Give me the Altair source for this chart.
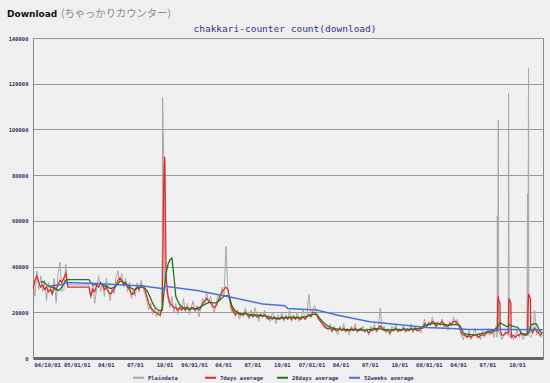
import altair as alt
import pandas as pd

# ---------------- data (values in thousands of downloads) ----------------
START = "2004-08-18"
STEP_DAYS = 6
X_DOMAIN = ["2004-08-18", "2008-12-21"]

N = None
gray_k = [33, 27, 38, 30, 36, 29, 34, 25, 33, 31, 28, 35, 24, 37, 42, 29, 30, 41, 32,
          N, N, N, N, N, N, N, N, N, N,
          32,
          26, 33, 24, 30, 36, 29, 33, 27, 35, 30, 25, 31, 28, 35, 38, 33, 37, 31, 35, 29,
          33, 26, 30, 27, 33, 29, 34, 31, 28,
          25, 21, 24, 19, 22, 18, 21, 18,
          N, N,
          30, 26, 22, 27, 20, 24, 19, 23, 21, 26, 20, 24, 19, 22, 25, 20, 23, 18, 22, 26,
          23, 29, 24, 27, 22, 20, 24, 28, 25, 31, 27,
          49,
          30, 24, 20, 22, 18, 21, 17, 20, 18, 22, 19, 17, 21, 18, 22, 19, 16, 20, 18, 21,
          17, 19, 16, 20, 18, 15, 19, 17, 20, 16, 19, 17, 21, 16, 19, 17, 20, 16, 18, 21,
          17, 19,
          28,
          19, 21, 23, 20, 18, 16, 15, 13, 14, 12, 15, 11, 14, 12, 10, 14, 12, 15, 11, 13,
          10, 14, 12, 15, 11, 13, 12, 14, 11, 13, 10, 14, 12, 15, 11, 13,
          22,
          12, 14, 11, 13, 10, 14, 12, 15, 11, 13, 12, 14, 11, 13, 12, 15, 11, 14, 12, 13,
          11, 14,
          17, 13, 16, 14, 18, 15, 13, 16, 14, 17, 13, 15, 12, 16, 14, 18, 15, 17, 13,
          10, 8, 11, 9, 12, 8, 10, 13, 9, 11, 8, 12, 9, 11, 13, 10, 12, 9, 14,
          N,
          11, 8, 10, 12,
          10,
          9, 11, 8, 10, 12, 9, 11, 8, 10, 12,
          N,
          9, 11, 21, 10, 12, 9, 10]

gray_spike_dates = ["2005-09-22", "2005-09-24", "2005-09-25", "2005-09-26", "2005-09-27",
                    "2005-09-28", "2005-09-29", "2005-09-30", "2005-10-01", "2005-10-02",
                    "2008-07-31", "2008-08-01", "2008-08-02", "2008-08-04", "2008-08-05",
                    "2008-09-04", "2008-09-05", "2008-09-06", "2008-09-07",
                    "2008-11-03", "2008-11-04", "2008-11-06", "2008-11-07"]
gray_spike_k = [21, 48, 114, 108, 99, 92, 86, 70, 45, 30,
                9, 62, 12, 104, 11,
                10, 116, 63, 10,
                72, 11, 127, 10]

red_k = [30, 34, 36, 33, 31, 32, 30, 31, 29, 30, 28, 31, 30, 32, 34, 33, 35, 37, 31,
         N, N, N, N, N, N, N, N, N, N,
         31,
         27, 30, 29, 32, 31, 33, 32, 30, 31, 29, 28, 29, 30, 32, 34, 35, 34, 32, 33, 31,
         30, 28, 28, 30, 31, 30, 32, 31, 30, 27, 24, 22, 21, 20, 20, 19, 19,
         N, N, N,
         27, 24, 23, 22, 22, 21, 22, 21, 22, 21, 22, 21, 22, 22, 21, 22, 21, 22, 24, 25,
         26, 25, 24, 23, 22, 23, 25, 27, 29, 30, 31, 30, 26,
         22, 20, 19, 20, 19, 19, 19, 20, 19, 18, 19, 18, 19, 18, 18, 19, 18, 19, 18, 17,
         18, 17, 18, 17, 17, 17, 18, 17, 18, 17, 18, 17, 18, 17, 18, 17, 17, 18, 17, 18,
         19, 18, 20, 20, 19,
         17, 16, 15, 14, 13, 13, 13, 12, 13, 12, 12, 13, 12, 13, 12, 12, 12, 13, 12, 13,
         12, 12, 13, 12, 12, 12, 11, 12, 12, 13, 12, 13, 14, 13, 12, 12, 12, 11, 12, 12,
         13, 12, 12, 12, 13, 12, 12, 12, 13, 12, 13, 12, 12, 13, 13,
         15, 14, 15, 15, 16, 15, 14, 15, 15, 16, 15, 14, 14, 15, 15, 16, 16, 15, 14,
         11, 10, 10, 9, 10, 9, 10, 10, 10, 9, 10, 10, 10, 11, 11, 11, 11, 12, 12,
         N, N,
         10, 10, 11,
         N, N,
         9, 10, 9, 10, 10, 11, 10, 10, 10,
         N, N,
         11, 13, 12, 11, 10, 11]

red_spike_dates = ["2005-09-24", "2005-09-26", "2005-09-28", "2005-09-30", "2005-10-01",
                   "2005-10-02", "2005-10-04", "2005-10-06",
                   "2008-08-01", "2008-08-02", "2008-08-03", "2008-08-06", "2008-08-09", "2008-08-10",
                   "2008-09-04", "2008-09-05", "2008-09-06", "2008-09-09", "2008-09-12", "2008-09-13",
                   "2008-11-03", "2008-11-04", "2008-11-06", "2008-11-09", "2008-11-12", "2008-11-13"]
red_spike_k = [22, 45, 70, 85, 88, 86, 60, 35,
               12, 20, 27, 25, 24, 12,
               11, 19, 26, 25, 24, 11,
               11, 20, 28, 27, 26, 12]

green_k = [N, N, N, N,
           33, 33.5, 33, 32, 31.5, 31, 31, 30.5, 30, 29.5, 30, 31, 32.5, 34, 34.3,
           N, N, N, N, N, N, N, N, N, N,
           34.3,
           33, 32, 32, 32.5, 32.5, 32.5, 32, 31.5, 31.5, 31, 30.5, 30.5, 31, 31.5, 32.5,
           33.5, 33.5, 33, 32.5, 32, 31, 30.5, 30, 30, 30.5, 31, 31, 31, 30.5, 29.5,
           28, 26, 24, 22.5, 21.5, 21, 20.7, 21,
           30, 37, 41, 43, 43.7, 36, 27, 25, 23.5, 22.5, 22, 22, 22, 21.5, 21.5, 21.5, 21.5,
           21.7, 22, 22.5, 23, 23.5, 23.8, 24.2, 24.4, 24.2, 24, 24.2, 24.8, 25.5, 26.2,
           27, 27.3, 27.3,
           26, 23, 21.5, 20.5, 20, 19.5, 19.3, 19.3, 19.3, 19.2, 19, 19, 18.9, 18.8, 18.8,
           18.7, 18.6, 18.5, 18.4, 18.2, 18, 17.8, 17.6, 17.5, 17.4, 17.4, 17.4, 17.5, 17.6,
           17.6, 17.7, 17.8, 17.8, 17.8, 17.7, 17.7, 17.7, 17.8, 17.9, 18, 18.2, 18.5, 18.7,
           19, 19.2, 18.8, 18, 17, 16, 15.2, 14.5, 14, 13.5, 13.2, 12.9, 12.8, 12.6,
           12.5, 12.4, 12.3, 12.4, 12.5, 12.4, 12.3, 12.2, 12.3, 12.4, 12.4, 12.3, 12.2,
           12.2, 12.3, 12.4, 12.5, 12.6, 12.7, 12.8, 12.8, 12.7,
           12.6, 12.5, 12.4, 12.3, 12.3, 12.4, 12.4, 12.5, 12.5, 12.4, 12.4, 12.5, 12.6,
           12.6, 12.5, 12.5, 12.6, 12.7, 12.8, 13, 13.3, 13.7,
           14, 14.3, 14.6, 14.8, 15, 15.2, 15.2, 15, 14.8, 14.7, 14.6, 14.5, 14.4, 14.4,
           14.5, 14.6, 14.6, 14.5, 14.4,
           13, 11, 10.6, 10.4, 10.3, 10.2, 10.1, 10.1, 10.2, 10.4, 10.6, 10.8, 11, 11.3,
           11.5, 11.8, 12, 12.3, 12.8,
           13.7, 15.5, 15, 14.5, 14, 13.7, 14.5, 14, 13.8, 13.6, 13.5, 12.5, 11, 10.5,
           10.4, 10.4, 11, 14.4, 14.8, 15, 14.8, 13, 11.5, 11]

blue_dates = ["2004-10-10", "2004-11-10", "2004-12-02", "2005-02-05", "2005-03-14",
              "2005-07-26", "2005-09-17", "2005-09-26", "2005-10-02", "2006-01-10",
              "2006-03-31", "2006-08-03", "2006-10-10", "2006-10-19", "2007-01-17",
              "2007-03-21", "2007-07-01", "2007-10-12", "2007-12-25", "2008-03-27",
              "2008-05-07", "2008-12-20"]
blue_k = [31.5, 32.0, 33.0, 32.7, 32.5, 31.5, 30.5, 30.0, 31.4, 29.5, 27.3, 23.6, 22.9,
          21.7, 21.0, 18.8, 15.9, 14.4, 13.3, 12.8, 12.5, 12.4]

series_names = ["Plaindata", "7days average", "28days average", "52weeks average"]
series_colors = ["#a9a9a9", "#e02a2a", "#1e781e", "#4a70e0"]
series_widths = [1.0, 1.3, 1.3, 1.5]

y_ticks = [0, 20000, 40000, 60000, 80000, 100000, 120000, 140000]
tick_dates = ["2004-10-01", "2005-01-01", "2005-04-01", "2005-07-01", "2005-10-01",
              "2006-01-01", "2006-04-01", "2006-07-01", "2006-10-01", "2007-01-01",
              "2007-04-01", "2007-07-01", "2007-10-01", "2008-01-01", "2008-04-01",
              "2008-07-01", "2008-10-01"]
tick_labels = ["04/10/01", "05/01/01", "04/01", "07/01", "10/01", "06/01/01", "04/01",
               "07/01", "10/01", "07/01/01", "04/01", "07/01", "10/01", "08/01/01",
               "04/01", "07/01", "10/01"]

header_main = "Download"
header_sub = "(ちゃっかりカウンター)"
chart_title = "chakkari-counter count(download)"


# ---------------- tables ----------------
def ms(d):
    return int(pd.Timestamp(d).value // 10**6)


def build(name, dates, vals):
    rows = [(pd.Timestamp(d).strftime("%Y-%m-%d"), v * 1000)
            for d, v in zip(dates, vals) if v is not None]
    df = pd.DataFrame(rows, columns=["date", "count"]).sort_values("date")
    df["series"] = name
    return df.reset_index(drop=True)


def grid_dates(n):
    return list(pd.date_range(START, periods=n, freq=f"{STEP_DAYS}D"))


gray_df = build(series_names[0], grid_dates(len(gray_k)) + gray_spike_dates, gray_k + gray_spike_k)
red_df = build(series_names[1], grid_dates(len(red_k)) + red_spike_dates, red_k + red_spike_k)
green_df = build(series_names[2], grid_dates(len(green_k)), green_k)
blue_df = build(series_names[3], blue_dates, blue_k)

tick_ms = [ms(d) for d in tick_dates]
label_expr = ("[" + ",".join(f"'{t}'" for t in tick_labels) + "][indexof(["
              + ",".join(str(t) for t in tick_ms) + "], toNumber(datum.value))]")

FONT_MONO = "DejaVu Sans Mono"
NAVY = "#333366"

x_enc = alt.X("date:T", title=None,
              scale=alt.Scale(type="utc", domain=[ms(X_DOMAIN[0]), ms(X_DOMAIN[1])]),
              axis=alt.Axis(values=tick_ms, labelExpr=label_expr, grid=False, ticks=False,
                            domainColor="#666666", domainWidth=3, labelFont=FONT_MONO,
                            labelFontSize=5.5, labelFontWeight="bold", labelColor=NAVY,
                            labelPadding=4, labelOverlap=False, labelFlush=False))
y_enc = alt.Y("count:Q", title=None,
              scale=alt.Scale(domain=[0, 140000], nice=False),
              axis=alt.Axis(values=y_ticks, format="d", ticks=False, domainColor="#888888",
                            gridColor="#999999", gridWidth=1, labelFont=FONT_MONO,
                            labelFontSize=5.5, labelFontWeight="bold", labelColor=NAVY,
                            labelPadding=5))
color_enc = alt.Color("series:N", title=None,
                      scale=alt.Scale(domain=series_names, range=series_colors),
                      legend=alt.Legend(orient="none", legendX=99, legendY=333,
                                        direction="horizontal", columns=4, gridAlign="all",
                                        columnPadding=3, symbolType="stroke", symbolSize=121,
                                        symbolStrokeWidth=2, labelFont=FONT_MONO,
                                        labelFontSize=5.5, labelFontWeight="bold",
                                        labelColor=NAVY, labelOffset=3, padding=0))

layers = []
for df, w in zip([gray_df, red_df, green_df, blue_df], series_widths):
    layers.append(alt.Chart(df).mark_line(strokeWidth=w, clip=True)
                  .encode(x=x_enc, y=y_enc, color=color_enc))

head1 = alt.Chart(pd.DataFrame({"t": [header_main]})).mark_text(
    align="left", baseline="alphabetic", font="DejaVu Sans", fontSize=9,
    fontWeight="bold", color="#111111").encode(x=alt.value(-26), y=alt.value(-21), text="t:N")
head2 = alt.Chart(pd.DataFrame({"t": [header_sub]})).mark_text(
    align="left", baseline="alphabetic", font="Noto Sans CJK JP", fontSize=10.3,
    color="#8a8a8a").encode(x=alt.value(28), y=alt.value(-21), text="t:N")
head3 = alt.Chart(pd.DataFrame({"t": [chart_title]})).mark_text(
    align="center", baseline="alphabetic", font=FONT_MONO, fontSize=9.5,
    color="#333388").encode(x=alt.value(252), y=alt.value(-6), text="t:N")

chart = alt.layer(*layers, head1, head2, head3).properties(
    width=510, height=320,
    autosize=alt.AutoSizeParams(type="none"),
    padding={"left": 33, "top": 38, "right": 7, "bottom": 25},
    background="#efefef",
).configure_view(fill="#f0f0f0", stroke="#888888", strokeWidth=1)

chart.save("out.html", embed_options={"renderer": "svg", "actions": False})
